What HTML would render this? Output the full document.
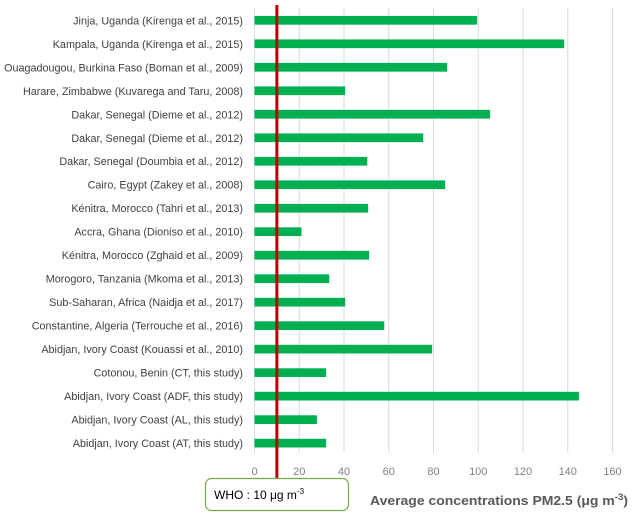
<!DOCTYPE html>
<html><head><meta charset="utf-8">
<style>
html,body{margin:0;padding:0;background:#fff;}
svg{display:block;font-family:"Liberation Sans",sans-serif;}
</style></head>
<body>
<svg id="chart" width="632" height="514" viewBox="0 0 632 514">
  <g id="grid"></g>
  <g id="bars"></g>
  <g id="labels"></g>
  <g id="ticks"></g>
  <line id="who" stroke="#c00000" stroke-width="3"></line>
  <rect x="205.5" y="478.5" width="143" height="32" rx="6" fill="#fff" stroke="#70ad47" stroke-width="1.2"></rect>
  <text x="214" y="499" font-size="12" fill="#000">WHO : 10 μg m<tspan dy="-5" font-size="8">-3</tspan></text>
  <text x="370" y="505" font-size="13" font-weight="bold" fill="#595959" textLength="258" lengthAdjust="spacingAndGlyphs">Average concentrations PM2.5 (μg m<tspan dy="-5" font-size="9">-3</tspan><tspan dy="5">)</tspan></text>
</svg>
<script>
const categories = [
  "Jinja, Uganda (Kirenga et al., 2015)",
  "Kampala, Uganda (Kirenga et al., 2015)",
  "Ouagadougou, Burkina Faso (Boman et al., 2009)",
  "Harare, Zimbabwe (Kuvarega and Taru, 2008)",
  "Dakar, Senegal (Dieme et al., 2012)",
  "Dakar, Senegal (Dieme et al., 2012)",
  "Dakar, Senegal (Doumbia et al., 2012)",
  "Cairo, Egypt (Zakey et al., 2008)",
  "Kénitra,  Morocco (Tahri et al., 2013)",
  "Accra, Ghana (Dioniso et al., 2010)",
  "Kénitra, Morocco (Zghaid et al., 2009)",
  "Morogoro, Tanzania (Mkoma et al., 2013)",
  "Sub-Saharan, Africa (Naidja et al., 2017)",
  "Constantine, Algeria (Terrouche et al., 2016)",
  "Abidjan, Ivory Coast (Kouassi et al., 2010)",
  "Cotonou, Benin (CT, this study)",
  "Abidjan, Ivory Coast (ADF, this study)",
  "Abidjan, Ivory Coast (AL, this study)",
  "Abidjan, Ivory Coast (AT, this study)"
];
const values = [99.5, 138.4, 86.1, 40.5, 105.3, 75.4, 50.4, 85.2, 50.8, 21, 51.2, 33.4, 40.5, 58, 79.4, 32, 145, 27.9, 32];
const tickValues = [0, 20, 40, 60, 80, 100, 120, 140, 160];
const whoLimit = 10;

const NS = "http://www.w3.org/2000/svg";
const x0 = 254.5, pxPerUnit = 2.2375;
const xScale = v => x0 + v * pxPerUnit;
const yTop = 20.3, step = 23.49;
const yScale = i => yTop + i * step;
const barH = 8.7;

const grid = document.getElementById("grid");
const ticks = document.getElementById("ticks");
tickValues.forEach(t => {
  const l = document.createElementNS(NS, "line");
  l.setAttribute("x1", xScale(t)); l.setAttribute("x2", xScale(t));
  l.setAttribute("y1", 8); l.setAttribute("y2", 453);
  l.setAttribute("stroke", "#d9d9d9"); l.setAttribute("stroke-width", "1");
  
  
  grid.appendChild(l);
  const tx = document.createElementNS(NS, "text");
  tx.setAttribute("x", xScale(t)); tx.setAttribute("y", 475);
  tx.setAttribute("text-anchor", "middle"); tx.setAttribute("font-size", "11");
  tx.setAttribute("fill", "#7f7f7f");
  tx.textContent = t;
  
  
  ticks.appendChild(tx);
});

const bars = document.getElementById("bars");
const labels = document.getElementById("labels");
categories.forEach((c, i) => {
  const r = document.createElementNS(NS, "rect");
  r.setAttribute("x", xScale(0));
  r.setAttribute("y", yScale(i) - barH / 2);
  r.setAttribute("width", xScale(values[i]) - xScale(0));
  r.setAttribute("height", barH);
  r.setAttribute("fill", "#00b050");
  
  
  bars.appendChild(r);
  const t = document.createElementNS(NS, "text");
  t.setAttribute("x", 243); t.setAttribute("y", yScale(i) + 4);
  t.setAttribute("text-anchor", "end"); t.setAttribute("font-size", "10.8");
  t.setAttribute("fill", "#404040");
  t.textContent = c;
  
  
  labels.appendChild(t);
});

const who = document.getElementById("who");
who.setAttribute("x1", xScale(whoLimit)); who.setAttribute("x2", xScale(whoLimit));
who.setAttribute("y1", 5); who.setAttribute("y2", 479);
</script>
</body></html>
